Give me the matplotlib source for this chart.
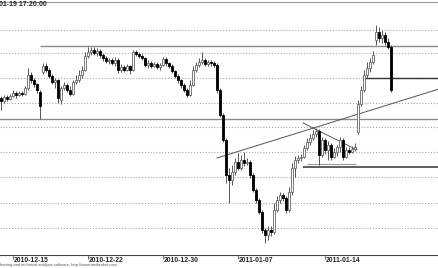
import numpy as np
import matplotlib.pyplot as plt

# values, in screen units (larger number = lower on the chart)
opens = [98, 101, 97, 99, 96, 93, 95, 93, 94, 88, 75, 80, 84, 92, 72, 66, 70, 76, 82, 80,
         100, 88, 85, 90, 94, 82, 80, 75, 70, 56, 52, 50, 53, 51, 55, 58, 61, 60, 63, 60,
         70, 67, 70, 66, 70, 52, 54, 56, 58, 65, 63, 66, 64, 67, 65, 59, 63, 66, 71, 76,
         80, 85, 90, 95, 85, 70, 65, 62, 60, 64, 62, 63, 65, 90, 115, 140, 175, 180, 172, 162,
         168, 160, 163, 162, 175, 190, 200, 212, 230, 235, 230, 232, 210, 200, 195, 198, 210, 192, 168, 160,
         158, 157, 148, 142, 138, 134, 131, 155, 140, 150, 145, 157, 152, 147, 140, 157, 150, 152, 149, 132,
         104, 90, 75, 68, 62, 40, 32, 38, 35, 42, 47]
closes = [101, 97, 99, 96, 93, 95, 93, 94, 88, 75, 80, 84, 90, 106, 66, 70, 76, 82, 80, 98,
          88, 85, 90, 94, 82, 80, 75, 70, 56, 52, 50, 53, 51, 55, 58, 61, 60, 63, 60, 70,
          67, 70, 66, 70, 52, 54, 56, 58, 65, 63, 66, 64, 67, 65, 59, 63, 66, 71, 76, 80,
          85, 90, 95, 85, 70, 65, 62, 60, 64, 62, 63, 65, 90, 115, 140, 175, 180, 172, 162, 168,
          160, 163, 162, 175, 190, 200, 212, 230, 235, 230, 232, 210, 200, 195, 198, 210, 192, 168, 160, 158,
          157, 148, 142, 138, 134, 131, 155, 140, 150, 145, 157, 152, 147, 140, 157, 150, 152, 149, 147, 104,
          90, 75, 68, 62, 55, 32, 38, 35, 42, 47, 90]
highs = [96, 95, 95, 94, 90, 91, 91, 91, 86, 68, 72, 78, 83, 90, 63, 63, 68, 74, 78, 79,
         86, 82, 83, 86, 80, 75, 70, 66, 52, 47, 47, 47, 48, 49, 53, 56, 58, 58, 57, 58,
         64, 65, 64, 65, 50, 50, 52, 54, 57, 60, 61, 62, 62, 63, 57, 57, 62, 64, 70, 74,
         79, 83, 88, 80, 66, 62, 58, 52, 58, 60, 60, 61, 63, 88, 113, 138, 168, 165, 158, 153,
         155, 152, 158, 160, 173, 188, 198, 210, 228, 226, 226, 203, 196, 192, 193, 196, 187, 163, 156, 155,
         154, 145, 138, 134, 130, 128, 129, 137, 138, 141, 143, 148, 145, 137, 138, 147, 147, 146, 143, 100,
         86, 70, 62, 58, 51, 25, 27, 30, 32, 38, 45]
lows = [110, 103, 101, 100, 97, 98, 96, 96, 95, 90, 83, 87, 93, 119, 74, 72, 78, 84, 88, 103,
        104, 90, 92, 96, 95, 84, 82, 78, 71, 58, 55, 55, 56, 58, 61, 63, 64, 65, 66, 73,
        72, 72, 71, 74, 71, 56, 58, 60, 67, 68, 68, 67, 69, 70, 66, 66, 68, 73, 78, 83,
        88, 92, 97, 96, 86, 72, 67, 64, 66, 66, 66, 67, 93, 117, 142, 183, 203, 185, 175, 170,
        170, 166, 165, 178, 192, 203, 214, 233, 243, 240, 236, 234, 212, 203, 201, 213, 212, 195, 177, 163,
        161, 158, 150, 145, 140, 137, 165, 157, 154, 160, 160, 158, 156, 152, 160, 158, 154, 153, 151, 134,
        106, 92, 78, 72, 64, 45, 42, 43, 45, 49, 92]

grid_levels = [30, 53, 78, 103, 127, 152, 177, 203, 228]
date_pos = [4, 29, 54, 79, 108]
date_labels = ['2010-12-15', '2010-12-22', '2010-12-30', '2011-01-07', '2011-01-14']

o = np.array(opens)
c = np.array(closes)
x = np.arange(len(o))

fig = plt.figure(figsize=(4.39, 2.68), dpi=100)
ax = fig.add_axes([0, 13 / 268, 1, 253 / 268])
ax.set_xlim(-1 / 3, 146)
ax.set_ylim(255, 2)

for g in grid_levels:
    ax.axhline(g, color='#a8a8a8', lw=0.8, ls=(0, (1, 1.6)), zorder=0)

# support / resistance and trend lines
ax.hlines(46, 13, 146, color='#8a8a8a', lw=1)
ax.hlines(119, -1, 146, color='#8a8a8a', lw=1)
ax.plot([72, 146], [158, 89], color='#555555', lw=0.7)
ax.plot([100.7, 118.7], [123, 150], color='#444444', lw=0.6)
ax.hlines(164, 102, 118.5, color='#999999', lw=0.8)
ax.hlines(167, 100.7, 146, color='#333333', lw=1.1)
ax.hlines(78, 120.7, 146, color='#333333', lw=1)

# candles
ax.vlines(x, highs, lows, color='#555555', lw=0.7, zorder=2)
up = c < o
ax.bar(x[up], (o - c)[up], bottom=c[up], width=0.7, color='white',
       edgecolor='#666666', lw=0.6, zorder=3)
ax.bar(x[~up], (c - o)[~up], bottom=o[~up], width=0.7, color='black',
       edgecolor='black', lw=0.6, zorder=3)

for s in ['left', 'right']:
    ax.spines[s].set_visible(False)
ax.spines['top'].set_color('#999999')
ax.spines['bottom'].set_color('#444444')
ax.spines['bottom'].set_linestyle((0, (3, 1)))
ax.set_yticks([])
ax.set_xticks(date_pos)
ax.set_xticklabels([])
ax.tick_params(axis='x', length=3, width=0.6, color='#555555')
for p, lab in zip(date_pos, date_labels):
    ax.text(p + 0.4, -1.5 / 253, lab, transform=ax.get_xaxis_transform(),
            ha='left', va='top', fontsize=4.9, fontweight='bold',
            family='Liberation Sans', color='#222222')

fig.text(-1 / 439, 1 - 4 / 268, '01-19 17:20:00', ha='left', va='center',
         fontsize=5, fontweight='bold', family='Liberation Sans', color='#222222')
fig.text(0, 3 / 268, 'harting and technical analysis software. http://www.amibroker.com',
         ha='left', va='center', fontsize=2.9, family='Liberation Sans', color='#555555')

fig.savefig('out.png', dpi=100, facecolor='white')
